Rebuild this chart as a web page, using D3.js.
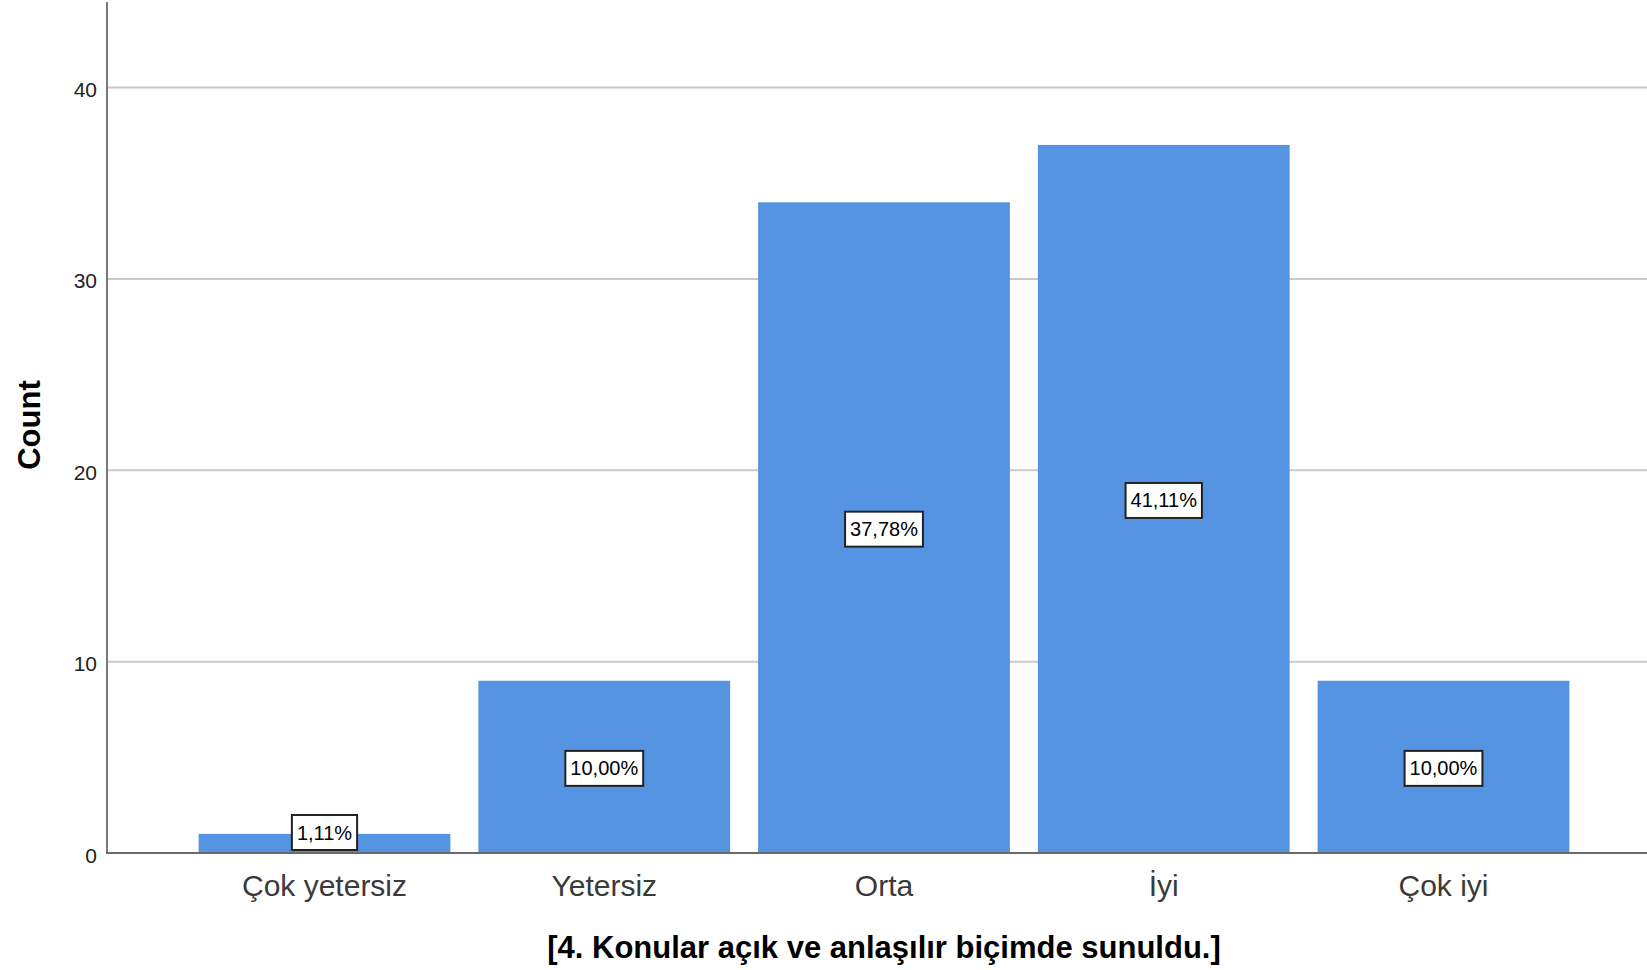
<!DOCTYPE html>
<html>
<head>
<meta charset="utf-8">
<script src="https://cdn.jsdelivr.net/npm/d3@7/dist/d3.min.js"></script>
<style>
  html, body { margin: 0; padding: 0; background: #fff; }
  svg { display: block; }
  text { font-family: Arial, "Liberation Sans", sans-serif; }
</style>
</head>
<body>
<svg id="chart" width="1647" height="970"></svg>
<script>
const categories = ["Çok yetersiz", "Yetersiz", "Orta", "İyi", "Çok iyi"];
const counts = [1, 9, 34, 37, 9];
const percentLabels = ["1,11%", "10,00%", "37,78%", "41,11%", "10,00%"];
const yTicks = [0, 10, 20, 30, 40];
const xTitle = "[4. Konular açık ve anlaşılır biçimde sunuldu.]";
const yTitle = "Count";

const W = 1647, H = 970;
const left = 107, baseY = 853, topY = 2;

const svg = d3.select("#chart");

const x = d3.scaleBand()
  .domain(categories)
  .range([left, 1661])
  .paddingInner(0.1)
  .paddingOuter(0.3275);

const y = d3.scaleLinear()
  .domain([0, 40])
  .range([baseY, 87.5]);

// gridlines
svg.append("g")
  .selectAll("line")
  .data(yTicks.filter(t => t > 0))
  .join("line")
  .attr("x1", left).attr("x2", W)
  .attr("y1", d => y(d)).attr("y2", d => y(d))
  .attr("stroke", "#c9c9c9")
  .attr("stroke-width", 2);

// bars
const data = categories.map((c, i) => ({ c, v: counts[i], p: percentLabels[i] }));
svg.append("g")
  .selectAll("rect")
  .data(data)
  .join("rect")
  .attr("x", d => x(d.c))
  .attr("width", x.bandwidth())
  .attr("y", d => y(d.v))
  .attr("height", d => y(0) - y(d.v))
  .attr("fill", "#5594E3");

// y axis
const yAxis = d3.axisLeft(y).tickValues(yTicks).tickSize(0).tickPadding(10);
const gy = svg.append("g").attr("transform", `translate(${left},0)`).call(yAxis);
gy.select(".domain").remove();
gy.selectAll("text")
  .attr("font-size", 21)
  .attr("fill", "#222")
  .attr("dy", "0.43em")
  .style("font-family", 'Arial, "Liberation Sans", sans-serif');

// axis lines
svg.append("line")
  .attr("x1", left).attr("x2", left)
  .attr("y1", topY).attr("y2", baseY + 1)
  .attr("stroke", "#7a7a7a").attr("stroke-width", 2);
svg.append("line")
  .attr("x1", left - 1).attr("x2", W)
  .attr("y1", baseY).attr("y2", baseY)
  .attr("stroke", "#6a6a6a").attr("stroke-width", 2);

// x axis category labels
const xAxis = d3.axisBottom(x).tickSize(0).tickPadding(0);
const gx = svg.append("g").attr("transform", `translate(0,${baseY})`).call(xAxis);
gx.select(".domain").remove();
gx.selectAll("text")
  .attr("y", 43)
  .attr("dy", 0)
  .attr("font-size", 30)
  .attr("fill", "#3a3a3a")
  .style("font-family", 'Arial, "Liberation Sans", sans-serif');

// percentage labels
const lg = svg.append("g");
data.forEach(d => {
  const g = lg.append("g");
  const t = g.append("text")
    .attr("text-anchor", "middle")
    .attr("font-size", 20)
    .attr("fill", "#000")
    .text(d.p);
  const tw = t.node().getComputedTextLength();
  const bw = tw + 10, bh = 35;
  const cx = x(d.c) + x.bandwidth() / 2;
  let cy = y(d.v / 2) + 1.5;
  if (cy + bh / 2 > baseY - 3) cy = baseY - 3 - bh / 2;
  g.insert("rect", "text")
    .attr("x", cx - bw / 2).attr("y", cy - bh / 2)
    .attr("width", bw).attr("height", bh)
    .attr("fill", "#fff")
    .attr("stroke", "#222")
    .attr("stroke-width", 2);
  t.attr("x", cx).attr("y", cy + 7);
});

// axis titles
svg.append("text")
  .attr("x", 884).attr("y", 958)
  .attr("text-anchor", "middle")
  .attr("font-size", 31)
  .attr("font-weight", "bold")
  .attr("fill", "#000")
  .text(xTitle);

svg.append("text")
  .attr("transform", "translate(40,425) rotate(-90)")
  .attr("text-anchor", "middle")
  .attr("font-size", 31)
  .attr("font-weight", "bold")
  .attr("fill", "#000")
  .text(yTitle);
</script>
</body>
</html>
